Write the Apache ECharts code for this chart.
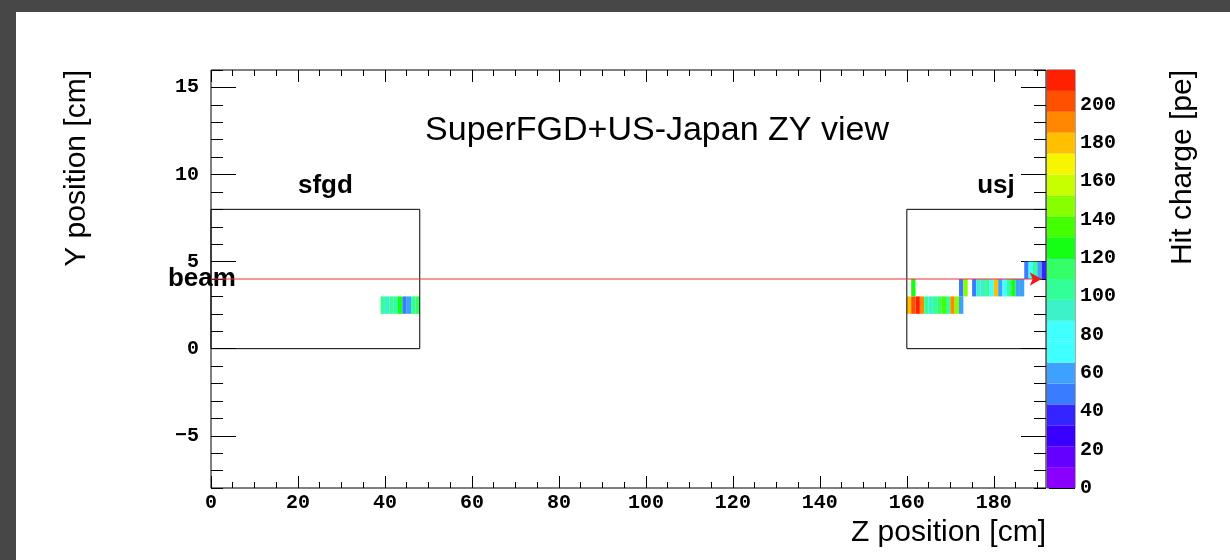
<!DOCTYPE html>
<html><head><meta charset="utf-8">
<script src="https://cdn.jsdelivr.net/npm/echarts@6/dist/echarts.min.js"></script>
<style>html,body{margin:0;padding:0;background:#fff}#c{width:1230px;height:560px}</style>
</head><body><div id="c"></div><script>
// ---- axis ticks ----
const zMajorTicks = [0,20,40,60,80,100,120,140,160,180];
const zMinorTicks = [0,5,10,15,20,25,30,35,40,45,50,55,60,65,70,75,80,85,90,95,100,105,110,115,120,125,130,135,140,145,150,155,160,165,170,175,180,185,190];
const yMajorTicks = [-5,0,5,10,15];
const yMinorTicks = [-8,-7,-6,-5,-4,-3,-2,-1,0,1,2,3,4,5,6,7,8,9,10,11,12,13,14,15,16];
const chargeTicks = [0,20,40,60,80,100,120,140,160,180,200];
// ---- colour palette (20 contour levels) ----
const chargeLevels = [0,10.9,21.8,32.7,43.6,54.5,65.4,76.3,87.2,98.1,109,119.9,130.8,141.7,152.6,163.5,174.4,185.3,196.2,207.1,218];
const paletteColors = ['#8a00ff','#6400ff','#3a00ff','#3424ff','#3a7cff','#3ea0ff','#40ffff','#40ffff','#3cf2c8','#33ff99','#33ff66','#14ff14','#44ff00','#88ff00','#c8ff00','#f6f600','#ffc000','#ff8800','#ff5000','#ff2000'];
// ---- hits: z (cm), y (cm), charge (pe) ----
const hitZ = [39,40,41,42,43,44,45,46,47,
  160,161,162,163,164,165,166,167,168,169,170,171,172,
  161,172,173,
  175,176,177,178,179,180,181,182,183,184,185,186,
  187,188,189,190,191];
const hitY = [2,2,2,2,2,2,2,2,2,
  2,2,2,2,2,2,2,2,2,2,2,2,2,
  3,3,3,
  3,3,3,3,3,3,3,3,3,3,3,3,
  4,4,4,4,4];
const hitQ = [103,92,102,100,125,52,62,101,115,
  178,205,212,195,100,92,103,115,140,100,190,150,62,
  125,50,148,
  50,95,88,100,80,185,55,75,105,120,65,65,
  52,70,100,60,35];
// ---- detector outlines and beam ----
const sfgdBoxZ = [0,48,48,0,0];
const sfgdBoxY = [0,0,8,8,0];
const usjBoxZ = [200,160,160,200];
const usjBoxY = [0,0,8,8];
const beamZ = [0,191];
const beamY = [4,4];
const tagNames = ['sfgd','usj','beam'];
const tagZ = [26.3,180.5,-2.1];
const tagY = [9.35,9.35,4.0];

const tickFont = {fontFamily:'Liberation Mono', fontWeight:'bold', fontSize:20, color:'#000'};
const tickLine = {color:'#000', width:1};
function axisX(pos, ticks, len, labels){
  return {type:'value', gridIndex:0, min:0, max:192, position:pos,
    axisLine:{show:false, onZero:false}, splitLine:{show:false},
    axisTick:{show:true, inside:true, length:len, customValues:ticks, lineStyle:tickLine},
    axisLabel: labels ? Object.assign({show:true, customValues:ticks, margin:5}, tickFont) : {show:false}};
}
function axisY(pos, ticks, len, labels){
  return {type:'value', gridIndex:0, min:-8, max:16, position:pos,
    axisLine:{show:false, onZero:false}, splitLine:{show:false},
    axisTick:{show:true, inside:true, length:len, customValues:ticks, lineStyle:tickLine},
    axisLabel: labels ? Object.assign({show:true, customValues:ticks, margin:12,
      formatter:v=>String(v).replace('-','\u2212')}, tickFont) : {show:false}};
}
const pieces = paletteColors.map((c,i)=>({gte:chargeLevels[i], lt:chargeLevels[i+1], color:c}));
const hitData = hitZ.map((z,i)=>[z, hitY[i], hitQ[i]]);
const barData = paletteColors.map((c,i)=>[chargeLevels[i], chargeLevels[i+1], (chargeLevels[i]+chargeLevels[i+1])/2]);
const beamData = beamZ.map((z,i)=>(i===beamZ.length-1)
  ? {value:[z,beamY[i]], symbol:'arrow', symbolRotate:-90, symbolSize:[10,12]}
  : {value:[z,beamY[i]], symbol:'none'});

const chart = echarts.init(document.getElementById('c'), null, {renderer:'canvas'});
const baseGraphic = [
  {type:'rect', shape:{x:0,y:0,width:1230,height:12}, style:{fill:'#474747'}, silent:true},
  {type:'rect', shape:{x:0,y:0,width:16,height:560}, style:{fill:'#474747'}, silent:true},
  {type:'text', x:657, y:131, style:{text:'SuperFGD+US-Japan ZY view', fontFamily:'Liberation Sans', fontSize:34, fill:'#000', align:'center', verticalAlign:'middle'}},
  {type:'text', x:1046, y:533, style:{text:'Z position [cm]', fontFamily:'Liberation Sans', fontSize:30, fill:'#000', align:'right', verticalAlign:'middle'}},
  {type:'text', x:77, y:70, rotation:Math.PI/2, style:{text:'Y position [cm]', fontFamily:'Liberation Sans', fontSize:30, fill:'#000', align:'right', verticalAlign:'middle'}},
  {type:'text', x:1183, y:70, rotation:Math.PI/2, style:{text:'Hit charge [pe]', fontFamily:'Liberation Sans', fontSize:30, fill:'#000', align:'right', verticalAlign:'middle'}}
];
chart.setOption({
  backgroundColor:'#fff',
  animation:false,
  grid:[
    {left:211, top:70, width:835, height:418, show:true, borderColor:'#000', borderWidth:1, backgroundColor:'transparent'},
    {left:1047, top:70, width:28, height:418, show:true, borderColor:'#555', borderWidth:1, backgroundColor:'transparent'}
  ],
  xAxis:[
    axisX('bottom', zMajorTicks, 12, true),
    axisX('bottom', zMinorTicks, 6, false),
    axisX('top', zMajorTicks, 12, false),
    axisX('top', zMinorTicks, 6, false),
    {type:'value', gridIndex:1, min:0, max:1, show:false}
  ],
  yAxis:[
    axisY('left', yMajorTicks, 25, true),
    axisY('left', yMinorTicks, 12, false),
    axisY('right', yMajorTicks, 25, false),
    axisY('right', yMinorTicks, 12, false),
    {type:'value', gridIndex:1, min:0, max:218, position:'right',
      axisLine:{show:false, onZero:false}, splitLine:{show:false},
      axisTick:{show:true, inside:true, length:26, customValues:chargeTicks, lineStyle:tickLine},
      axisLabel:Object.assign({show:true, customValues:chargeTicks, margin:5}, tickFont)}
  ],
  visualMap:{type:'piecewise', show:false, dimension:2, seriesIndex:[0,1], pieces:pieces},
  series:[
    {type:'custom', xAxisIndex:0, yAxisIndex:0, data:hitData, z:3,
      renderItem:(params, api)=>{
        const p0 = api.coord([api.value(0), api.value(1)+1]);
        const p1 = api.coord([api.value(0)+1, api.value(1)]);
        return {type:'rect', shape:{x:p0[0], y:p0[1], width:p1[0]-p0[0], height:p1[1]-p0[1]},
          style:{fill:api.visual('color')}};
      }},
    {type:'custom', xAxisIndex:4, yAxisIndex:4, data:barData, z:3,
      renderItem:(params, api)=>{
        const p0 = api.coord([0, api.value(1)]);
        const p1 = api.coord([1, api.value(0)]);
        return {type:'rect', shape:{x:p0[0], y:p0[1], width:p1[0]-p0[0], height:p1[1]-p0[1]},
          style:{fill:api.visual('color')}};
      }},
    {type:'line', xAxisIndex:0, yAxisIndex:0, data:sfgdBoxZ.map((z,i)=>[z,sfgdBoxY[i]]),
      symbol:'none', lineStyle:{color:'#000', width:1}, clip:true, z:4},
    {type:'line', xAxisIndex:0, yAxisIndex:0, data:usjBoxZ.map((z,i)=>[z,usjBoxY[i]]),
      symbol:'none', lineStyle:{color:'#000', width:1}, clip:true, z:4},
    {type:'line', xAxisIndex:0, yAxisIndex:0, data:beamData, showSymbol:true, clip:false, z:5,
      itemStyle:{color:'#ee1c1c'}, lineStyle:{color:'#f03232', width:1.2}}
  ],
  graphic: baseGraphic
});
// text tags placed at data coordinates through the chart's own scales
const tagGraphic = tagNames.map((t,i)=>{
  const p = chart.convertToPixel({xAxisIndex:0, yAxisIndex:0}, [tagZ[i], tagY[i]]);
  return {type:'text', x:p[0], y:p[1], style:{text:t, fontFamily:'Liberation Sans', fontWeight:'bold', fontSize:26, fill:'#000', align:'center', verticalAlign:'middle'}};
});
chart.setOption({graphic: baseGraphic.concat(tagGraphic)});
</script></body></html>
